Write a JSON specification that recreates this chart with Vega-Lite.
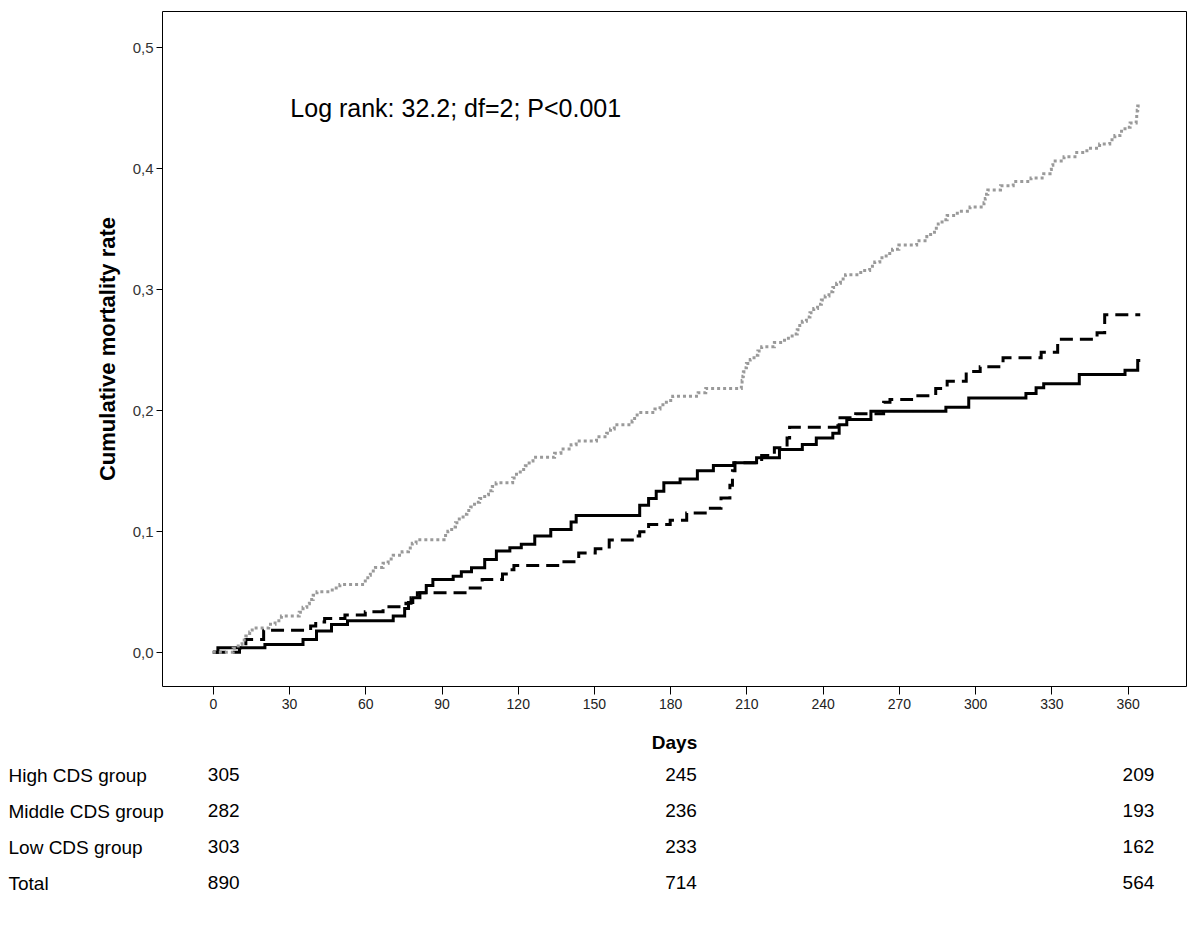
{
  "$schema": "https://vega.github.io/schema/vega-lite/v6.json",
  "padding": {"left": 8, "top": 10, "right": 10, "bottom": 10},
  "background": "white",
  "spacing": 4,
  "config": {
    "font": "Liberation Sans",
    "axis": {"labelFont": "Liberation Sans", "titleFont": "Liberation Sans", "grid": false},
    "text": {"font": "Liberation Sans"}
  },
  "datasets": {
    "curves": [
      {"group": "High CDS group", "day": 0, "rate": 0},
      {"group": "High CDS group", "day": 2, "rate": 0.0036},
      {"group": "High CDS group", "day": 20.5, "rate": 0.0063},
      {"group": "High CDS group", "day": 35.5, "rate": 0.0105},
      {"group": "High CDS group", "day": 40.8, "rate": 0.0174},
      {"group": "High CDS group", "day": 46.7, "rate": 0.0229},
      {"group": "High CDS group", "day": 53, "rate": 0.026},
      {"group": "High CDS group", "day": 71, "rate": 0.0298},
      {"group": "High CDS group", "day": 75.5, "rate": 0.036},
      {"group": "High CDS group", "day": 77, "rate": 0.041},
      {"group": "High CDS group", "day": 78.7, "rate": 0.045},
      {"group": "High CDS group", "day": 81.5, "rate": 0.049},
      {"group": "High CDS group", "day": 84, "rate": 0.055},
      {"group": "High CDS group", "day": 86.6, "rate": 0.06},
      {"group": "High CDS group", "day": 94.6, "rate": 0.0628},
      {"group": "High CDS group", "day": 97.8, "rate": 0.0664},
      {"group": "High CDS group", "day": 101.8, "rate": 0.0697},
      {"group": "High CDS group", "day": 107, "rate": 0.0766},
      {"group": "High CDS group", "day": 111.6, "rate": 0.0835},
      {"group": "High CDS group", "day": 116.9, "rate": 0.0862},
      {"group": "High CDS group", "day": 121.4, "rate": 0.0892},
      {"group": "High CDS group", "day": 126.7, "rate": 0.0959},
      {"group": "High CDS group", "day": 133, "rate": 0.1014},
      {"group": "High CDS group", "day": 141, "rate": 0.1075},
      {"group": "High CDS group", "day": 143, "rate": 0.113},
      {"group": "High CDS group", "day": 168, "rate": 0.1215},
      {"group": "High CDS group", "day": 171.5, "rate": 0.127},
      {"group": "High CDS group", "day": 174.5, "rate": 0.133},
      {"group": "High CDS group", "day": 177.5, "rate": 0.14},
      {"group": "High CDS group", "day": 183.9, "rate": 0.1432},
      {"group": "High CDS group", "day": 190.7, "rate": 0.15},
      {"group": "High CDS group", "day": 197, "rate": 0.1543},
      {"group": "High CDS group", "day": 205, "rate": 0.1565},
      {"group": "High CDS group", "day": 214, "rate": 0.1606},
      {"group": "High CDS group", "day": 223, "rate": 0.1675},
      {"group": "High CDS group", "day": 232, "rate": 0.1716},
      {"group": "High CDS group", "day": 237.5, "rate": 0.177},
      {"group": "High CDS group", "day": 244, "rate": 0.181},
      {"group": "High CDS group", "day": 246.5, "rate": 0.188},
      {"group": "High CDS group", "day": 249.5, "rate": 0.1923},
      {"group": "High CDS group", "day": 259, "rate": 0.1992},
      {"group": "High CDS group", "day": 288.5, "rate": 0.2025},
      {"group": "High CDS group", "day": 297.5, "rate": 0.21},
      {"group": "High CDS group", "day": 320, "rate": 0.2138},
      {"group": "High CDS group", "day": 324, "rate": 0.2185},
      {"group": "High CDS group", "day": 327, "rate": 0.2218},
      {"group": "High CDS group", "day": 341, "rate": 0.2295},
      {"group": "High CDS group", "day": 359, "rate": 0.233},
      {"group": "High CDS group", "day": 364, "rate": 0.241},
      {"group": "High CDS group", "day": 365, "rate": 0.241},

      {"group": "Middle CDS group", "day": 0, "rate": 0},
      {"group": "Middle CDS group", "day": 10.5, "rate": 0.0035},
      {"group": "Middle CDS group", "day": 13, "rate": 0.0105},
      {"group": "Middle CDS group", "day": 20, "rate": 0.018},
      {"group": "Middle CDS group", "day": 38.5, "rate": 0.0215},
      {"group": "Middle CDS group", "day": 40.5, "rate": 0.025},
      {"group": "Middle CDS group", "day": 44, "rate": 0.0278},
      {"group": "Middle CDS group", "day": 52, "rate": 0.0306},
      {"group": "Middle CDS group", "day": 60, "rate": 0.0334},
      {"group": "Middle CDS group", "day": 67, "rate": 0.0375},
      {"group": "Middle CDS group", "day": 76, "rate": 0.0405},
      {"group": "Middle CDS group", "day": 78, "rate": 0.045},
      {"group": "Middle CDS group", "day": 80.5, "rate": 0.049},
      {"group": "Middle CDS group", "day": 100, "rate": 0.053},
      {"group": "Middle CDS group", "day": 106, "rate": 0.06},
      {"group": "Middle CDS group", "day": 114, "rate": 0.0645},
      {"group": "Middle CDS group", "day": 116.5, "rate": 0.068},
      {"group": "Middle CDS group", "day": 118.5, "rate": 0.0716},
      {"group": "Middle CDS group", "day": 137.5, "rate": 0.0747},
      {"group": "Middle CDS group", "day": 144, "rate": 0.082},
      {"group": "Middle CDS group", "day": 150.5, "rate": 0.0855},
      {"group": "Middle CDS group", "day": 156, "rate": 0.0926},
      {"group": "Middle CDS group", "day": 166.5, "rate": 0.096},
      {"group": "Middle CDS group", "day": 168, "rate": 0.0995},
      {"group": "Middle CDS group", "day": 171.5, "rate": 0.1055},
      {"group": "Middle CDS group", "day": 180, "rate": 0.109},
      {"group": "Middle CDS group", "day": 186.5, "rate": 0.115},
      {"group": "Middle CDS group", "day": 194.5, "rate": 0.119},
      {"group": "Middle CDS group", "day": 200, "rate": 0.1275},
      {"group": "Middle CDS group", "day": 203.5, "rate": 0.138},
      {"group": "Middle CDS group", "day": 204.5, "rate": 0.15},
      {"group": "Middle CDS group", "day": 205.5, "rate": 0.1565},
      {"group": "Middle CDS group", "day": 216, "rate": 0.1625},
      {"group": "Middle CDS group", "day": 221, "rate": 0.169},
      {"group": "Middle CDS group", "day": 226, "rate": 0.177},
      {"group": "Middle CDS group", "day": 227, "rate": 0.186},
      {"group": "Middle CDS group", "day": 246, "rate": 0.1937},
      {"group": "Middle CDS group", "day": 253, "rate": 0.197},
      {"group": "Middle CDS group", "day": 264, "rate": 0.2066},
      {"group": "Middle CDS group", "day": 266.5, "rate": 0.2088},
      {"group": "Middle CDS group", "day": 275, "rate": 0.212},
      {"group": "Middle CDS group", "day": 284.5, "rate": 0.218},
      {"group": "Middle CDS group", "day": 289, "rate": 0.224},
      {"group": "Middle CDS group", "day": 296.5, "rate": 0.232},
      {"group": "Middle CDS group", "day": 302, "rate": 0.236},
      {"group": "Middle CDS group", "day": 311, "rate": 0.2433},
      {"group": "Middle CDS group", "day": 326, "rate": 0.248},
      {"group": "Middle CDS group", "day": 332.5, "rate": 0.2587},
      {"group": "Middle CDS group", "day": 348, "rate": 0.264},
      {"group": "Middle CDS group", "day": 351, "rate": 0.279},
      {"group": "Middle CDS group", "day": 365, "rate": 0.279},

      {"group": "Low CDS group", "day": 0, "rate": 0},
      {"group": "Low CDS group", "day": 8, "rate": 0.0033},
      {"group": "Low CDS group", "day": 10, "rate": 0.0066},
      {"group": "Low CDS group", "day": 11.5, "rate": 0.01},
      {"group": "Low CDS group", "day": 13, "rate": 0.0133},
      {"group": "Low CDS group", "day": 14.5, "rate": 0.0166},
      {"group": "Low CDS group", "day": 15.5, "rate": 0.02},
      {"group": "Low CDS group", "day": 22, "rate": 0.023},
      {"group": "Low CDS group", "day": 24.5, "rate": 0.026},
      {"group": "Low CDS group", "day": 27, "rate": 0.0298},
      {"group": "Low CDS group", "day": 34, "rate": 0.033},
      {"group": "Low CDS group", "day": 35.5, "rate": 0.037},
      {"group": "Low CDS group", "day": 37, "rate": 0.04},
      {"group": "Low CDS group", "day": 38, "rate": 0.0435},
      {"group": "Low CDS group", "day": 39.5, "rate": 0.047},
      {"group": "Low CDS group", "day": 41, "rate": 0.05},
      {"group": "Low CDS group", "day": 47, "rate": 0.053},
      {"group": "Low CDS group", "day": 50, "rate": 0.056},
      {"group": "Low CDS group", "day": 60, "rate": 0.06},
      {"group": "Low CDS group", "day": 61, "rate": 0.0635},
      {"group": "Low CDS group", "day": 62, "rate": 0.067},
      {"group": "Low CDS group", "day": 64, "rate": 0.07},
      {"group": "Low CDS group", "day": 67, "rate": 0.0735},
      {"group": "Low CDS group", "day": 69, "rate": 0.077},
      {"group": "Low CDS group", "day": 71, "rate": 0.08},
      {"group": "Low CDS group", "day": 74.5, "rate": 0.083},
      {"group": "Low CDS group", "day": 77, "rate": 0.086},
      {"group": "Low CDS group", "day": 78.5, "rate": 0.09},
      {"group": "Low CDS group", "day": 80, "rate": 0.093},
      {"group": "Low CDS group", "day": 91, "rate": 0.0965},
      {"group": "Low CDS group", "day": 92.5, "rate": 0.1},
      {"group": "Low CDS group", "day": 94, "rate": 0.1035},
      {"group": "Low CDS group", "day": 95.5, "rate": 0.107},
      {"group": "Low CDS group", "day": 97, "rate": 0.11},
      {"group": "Low CDS group", "day": 98.5, "rate": 0.114},
      {"group": "Low CDS group", "day": 100, "rate": 0.117},
      {"group": "Low CDS group", "day": 101.5, "rate": 0.12},
      {"group": "Low CDS group", "day": 103, "rate": 0.124},
      {"group": "Low CDS group", "day": 105, "rate": 0.127},
      {"group": "Low CDS group", "day": 107, "rate": 0.13},
      {"group": "Low CDS group", "day": 108.5, "rate": 0.1335},
      {"group": "Low CDS group", "day": 110, "rate": 0.137},
      {"group": "Low CDS group", "day": 111.5, "rate": 0.14},
      {"group": "Low CDS group", "day": 118, "rate": 0.144},
      {"group": "Low CDS group", "day": 119.5, "rate": 0.147},
      {"group": "Low CDS group", "day": 121, "rate": 0.151},
      {"group": "Low CDS group", "day": 123, "rate": 0.154},
      {"group": "Low CDS group", "day": 124.5, "rate": 0.158},
      {"group": "Low CDS group", "day": 126, "rate": 0.161},
      {"group": "Low CDS group", "day": 134.5, "rate": 0.1645},
      {"group": "Low CDS group", "day": 137, "rate": 0.168},
      {"group": "Low CDS group", "day": 141, "rate": 0.1715},
      {"group": "Low CDS group", "day": 143, "rate": 0.1745},
      {"group": "Low CDS group", "day": 151, "rate": 0.178},
      {"group": "Low CDS group", "day": 155, "rate": 0.181},
      {"group": "Low CDS group", "day": 156.5, "rate": 0.1845},
      {"group": "Low CDS group", "day": 158, "rate": 0.188},
      {"group": "Low CDS group", "day": 165, "rate": 0.191},
      {"group": "Low CDS group", "day": 166, "rate": 0.1945},
      {"group": "Low CDS group", "day": 167, "rate": 0.198},
      {"group": "Low CDS group", "day": 174, "rate": 0.201},
      {"group": "Low CDS group", "day": 176, "rate": 0.2045},
      {"group": "Low CDS group", "day": 178.5, "rate": 0.208},
      {"group": "Low CDS group", "day": 181, "rate": 0.2115},
      {"group": "Low CDS group", "day": 191, "rate": 0.2145},
      {"group": "Low CDS group", "day": 194, "rate": 0.218},
      {"group": "Low CDS group", "day": 208, "rate": 0.221},
      {"group": "Low CDS group", "day": 208.3, "rate": 0.2245},
      {"group": "Low CDS group", "day": 208.6, "rate": 0.228},
      {"group": "Low CDS group", "day": 208.8, "rate": 0.2315},
      {"group": "Low CDS group", "day": 209, "rate": 0.235},
      {"group": "Low CDS group", "day": 210, "rate": 0.2385},
      {"group": "Low CDS group", "day": 211.5, "rate": 0.242},
      {"group": "Low CDS group", "day": 213, "rate": 0.2455},
      {"group": "Low CDS group", "day": 214.5, "rate": 0.249},
      {"group": "Low CDS group", "day": 216, "rate": 0.2525},
      {"group": "Low CDS group", "day": 221, "rate": 0.256},
      {"group": "Low CDS group", "day": 225, "rate": 0.2595},
      {"group": "Low CDS group", "day": 228, "rate": 0.263},
      {"group": "Low CDS group", "day": 230, "rate": 0.2665},
      {"group": "Low CDS group", "day": 231, "rate": 0.27},
      {"group": "Low CDS group", "day": 232, "rate": 0.2735},
      {"group": "Low CDS group", "day": 233.6, "rate": 0.277},
      {"group": "Low CDS group", "day": 235, "rate": 0.2805},
      {"group": "Low CDS group", "day": 236.5, "rate": 0.284},
      {"group": "Low CDS group", "day": 238, "rate": 0.2875},
      {"group": "Low CDS group", "day": 239.5, "rate": 0.291},
      {"group": "Low CDS group", "day": 241, "rate": 0.2945},
      {"group": "Low CDS group", "day": 242.5, "rate": 0.298},
      {"group": "Low CDS group", "day": 244, "rate": 0.3015},
      {"group": "Low CDS group", "day": 245.5, "rate": 0.305},
      {"group": "Low CDS group", "day": 247, "rate": 0.3085},
      {"group": "Low CDS group", "day": 249, "rate": 0.312},
      {"group": "Low CDS group", "day": 255, "rate": 0.3155},
      {"group": "Low CDS group", "day": 258.5, "rate": 0.319},
      {"group": "Low CDS group", "day": 260.5, "rate": 0.3225},
      {"group": "Low CDS group", "day": 262.5, "rate": 0.326},
      {"group": "Low CDS group", "day": 265, "rate": 0.3295},
      {"group": "Low CDS group", "day": 267.5, "rate": 0.333},
      {"group": "Low CDS group", "day": 270, "rate": 0.3365},
      {"group": "Low CDS group", "day": 277, "rate": 0.34},
      {"group": "Low CDS group", "day": 281, "rate": 0.3435},
      {"group": "Low CDS group", "day": 282.5, "rate": 0.347},
      {"group": "Low CDS group", "day": 284, "rate": 0.3505},
      {"group": "Low CDS group", "day": 285.5, "rate": 0.354},
      {"group": "Low CDS group", "day": 287, "rate": 0.3575},
      {"group": "Low CDS group", "day": 289, "rate": 0.361},
      {"group": "Low CDS group", "day": 293, "rate": 0.3645},
      {"group": "Low CDS group", "day": 298, "rate": 0.368},
      {"group": "Low CDS group", "day": 303.5, "rate": 0.3715},
      {"group": "Low CDS group", "day": 304, "rate": 0.375},
      {"group": "Low CDS group", "day": 304.5, "rate": 0.3785},
      {"group": "Low CDS group", "day": 305, "rate": 0.382},
      {"group": "Low CDS group", "day": 310, "rate": 0.3855},
      {"group": "Low CDS group", "day": 315, "rate": 0.389},
      {"group": "Low CDS group", "day": 322, "rate": 0.392},
      {"group": "Low CDS group", "day": 327, "rate": 0.3955},
      {"group": "Low CDS group", "day": 329.5, "rate": 0.399},
      {"group": "Low CDS group", "day": 330, "rate": 0.4025},
      {"group": "Low CDS group", "day": 330.6, "rate": 0.406},
      {"group": "Low CDS group", "day": 335, "rate": 0.4095},
      {"group": "Low CDS group", "day": 340, "rate": 0.413},
      {"group": "Low CDS group", "day": 344, "rate": 0.4165},
      {"group": "Low CDS group", "day": 349, "rate": 0.42},
      {"group": "Low CDS group", "day": 353, "rate": 0.4235},
      {"group": "Low CDS group", "day": 355, "rate": 0.427},
      {"group": "Low CDS group", "day": 357, "rate": 0.4305},
      {"group": "Low CDS group", "day": 359, "rate": 0.434},
      {"group": "Low CDS group", "day": 361, "rate": 0.4375},
      {"group": "Low CDS group", "day": 363.4, "rate": 0.441},
      {"group": "Low CDS group", "day": 363.6, "rate": 0.4445},
      {"group": "Low CDS group", "day": 363.8, "rate": 0.448},
      {"group": "Low CDS group", "day": 364, "rate": 0.4515},
      {"group": "Low CDS group", "day": 365, "rate": 0.4515}
    ],
    "atrisk": [
      {"group": "High CDS group", "day": 0, "n": 305},
      {"group": "High CDS group", "day": 180, "n": 245},
      {"group": "High CDS group", "day": 360, "n": 209},
      {"group": "Middle CDS group", "day": 0, "n": 282},
      {"group": "Middle CDS group", "day": 180, "n": 236},
      {"group": "Middle CDS group", "day": 360, "n": 193},
      {"group": "Low CDS group", "day": 0, "n": 303},
      {"group": "Low CDS group", "day": 180, "n": 233},
      {"group": "Low CDS group", "day": 360, "n": 162},
      {"group": "Total", "day": 0, "n": 890},
      {"group": "Total", "day": 180, "n": 714},
      {"group": "Total", "day": 360, "n": 564}
    ]
  },
  "vconcat": [
    {
      "width": 1024,
      "height": 675,
      "view": {"stroke": "#000000", "strokeWidth": 1},
      "layer": [
        {
          "data": {"name": "curves"},
          "mark": {"type": "line", "interpolate": "step-after", "strokeWidth": 3, "strokeCap": "butt"},
          "encoding": {
            "x": {
              "field": "day", "type": "quantitative",
              "scale": {"domain": [-20, 383], "nice": false, "zero": false},
              "axis": {
                "values": [0, 30, 60, 90, 120, 150, 180, 210, 240, 270, 300, 330, 360],
                "title": "Days", "titleFontSize": 19, "titleFontWeight": "bold", "titleColor": "#000000",
                "titlePadding": 22,
                "labelFontSize": 14, "labelColor": "#222222", "labelPadding": 3,
                "tickSize": 8, "tickColor": "#000000", "domain": false
              }
            },
            "y": {
              "field": "rate", "type": "quantitative",
              "scale": {"domain": [-0.028, 0.53], "nice": false, "zero": false},
              "axis": {
                "values": [0, 0.1, 0.2, 0.3, 0.4, 0.5],
                "labelExpr": "replace(format(datum.value, '.1f'), '.', ',')",
                "title": "Cumulative mortality rate", "titleFontSize": 22, "titleFontWeight": "bold", "titleColor": "#000000",
                "titlePadding": 13,
                "labelFontSize": 15, "labelColor": "#333333", "labelPadding": 3,
                "tickSize": 6, "tickColor": "#000000", "domain": false
              }
            },
            "stroke": {
              "field": "group", "type": "nominal",
              "scale": {"domain": ["High CDS group", "Middle CDS group", "Low CDS group"], "range": ["#000000", "#000000", "#9a9a9a"]},
              "legend": null
            },
            "strokeDash": {
              "field": "group", "type": "nominal",
              "scale": {"domain": ["High CDS group", "Middle CDS group", "Low CDS group"], "range": [[1, 0], [13, 7], [3, 3]]},
              "legend": null
            },
            "detail": {"field": "group"}
          }
        },
        {
          "data": {"values": [{"label": "Log rank: 32.2; df=2; P<0.001"}]},
          "mark": {"type": "text", "align": "left", "baseline": "middle", "fontSize": 25, "color": "#000000"},
          "encoding": {
            "x": {"datum": 30.5, "type": "quantitative"},
            "y": {"datum": 0.449, "type": "quantitative"},
            "text": {"field": "label"}
          }
        }
      ]
    },
    {
      "width": 1024,
      "height": 144,
      "view": {"stroke": null},
      "data": {"name": "atrisk"},
      "mark": {"type": "text", "align": "left", "baseline": "middle", "fontSize": 19, "dx": -5, "color": "#000000"},
      "encoding": {
        "x": {
          "field": "day", "type": "quantitative",
          "scale": {"domain": [-20, 383], "nice": false, "zero": false},
          "axis": null
        },
        "y": {
          "field": "group", "type": "ordinal",
          "scale": {"type": "point", "domain": ["High CDS group", "Middle CDS group", "Low CDS group", "Total"], "padding": 0.5},
          "axis": {
            "title": null, "domain": false, "ticks": false, "tickSize": 0,
            "labelAlign": "left", "labelPadding": 154, "labelFontSize": 19, "labelColor": "#000000", "labelBaseline": "middle"
          }
        },
        "text": {"field": "n", "type": "quantitative"}
      }
    }
  ]
}
